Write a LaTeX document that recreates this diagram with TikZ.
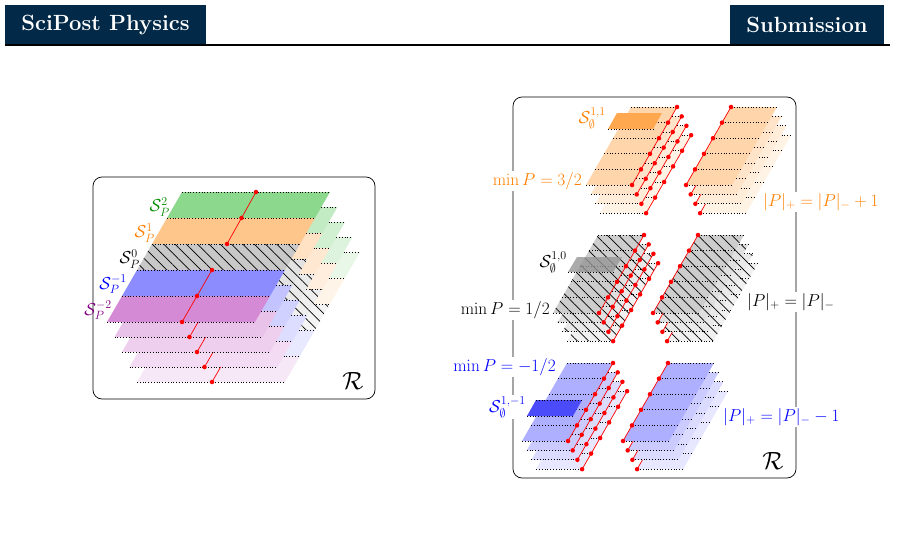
\documentclass[tikz,border=0pt]{standalone}
\usetikzlibrary{calc,patterns.meta}
\definecolor{hdr}{RGB}{2,42,72}
\definecolor{lgreen}{RGB}{140,216,140}
\definecolor{lorange}{RGB}{255,198,140}
\definecolor{lgray}{RGB}{200,200,200}
\definecolor{lblue}{RGB}{140,140,255}
\definecolor{lpurple}{RGB}{213,138,213}
\definecolor{rorange}{RGB}{255,214,172}
\definecolor{rgray}{RGB}{205,205,205}
\definecolor{rblue}{RGB}{175,175,255}
\definecolor{korange}{RGB}{255,168,80}
\definecolor{kgray}{RGB}{150,150,150}
\definecolor{kblue}{RGB}{75,75,250}
\tikzset{
  edge/.style={dotted,line width=0.8pt},
  redline/.style={red,line width=0.7pt},
  reddot/.style={fill=red,draw=none,circle,inner sep=1.6pt},
  hatch/.style={pattern={Lines[angle=135,distance=8pt,line width=0.7pt]}},
  lbl/.style={font=\fontsize{18}{20}\selectfont,inner sep=1pt},
  frame/.style={rounded corners=9pt,line width=0.7pt}
}
% one sheet of the left stack
\newcommand\lsheet[5]{%
  \fill[#3!#4!white] (#1,#2) -- ++(148,0) -- ++(15,-26) -- ++(-148,0) -- cycle;
  #5
  \draw[edge] (#1,#2) -- ++(148,0);
  \draw[edge] (#1+15,#2-26) -- ++(148,0);
}
% one layer of a right stack
\newcommand\rsheet[6]{%
  \fill[#3!#4!white] (#1,#2) -- ++(46,0) -- ++(45,-78) -- ++(-46,0) -- cycle;
  #5
  \foreach \r in {0,...,5}
    \draw[edge] (#1+9*\r,#2-15.6*\r) -- ++(46,0);
  \draw[redline] (#1+#6,#2) -- ++(45,-78);
  \foreach \r in {0,...,5}
    \node[reddot] at (#1+#6+9*\r,#2-15.6*\r) {};
}
\newcommand\rstack[5]{%
  \foreach \j/\p in {3/30,2/45,1/65,0/100}
    \rsheet{#1+4.7*\j}{#2+9.4*\j}{#3}{\p}{#4}{#5};
}
\newcommand\nohatch{}
\begin{document}
\begin{tikzpicture}[x=1pt,y=-1pt]
\useasboundingbox (0,0) rectangle (897,533);
% header
\fill[hdr] (5,5) rectangle (206,45);
\node[text=white,font=\bfseries\fontsize{22}{24}\selectfont] (hl) at (105.5,25) {SciPost Physics};
\fill[hdr] (730,5) rectangle (884,45);
\node[text=white,font=\bfseries\fontsize{22}{24}\selectfont] (hr) at (807,25) {Submission};
\draw[line width=1.6pt] (5,45) -- (890,45);

%left picture
\draw[frame] (93,177) rectangle (375,399);
\foreach \j/\p in {4/20,3/30,2/40,1/52,0/100} {
  \lsheet{167+7.5*\j}{218+15*\j}{lgreen}{\p}{}
  \lsheet{152+7.5*\j}{244+15*\j}{lorange}{\p}{}
  \lsheet{137+7.5*\j}{270+15*\j}{lgray}{\p}{\fill[hatch] (137+7.5*\j,270+15*\j) -- ++(148,0) -- ++(15,-26) -- ++(-148,0) -- cycle;}
  \lsheet{122+7.5*\j}{296+15*\j}{lblue}{\p}{}
  \lsheet{107+7.5*\j}{322+15*\j}{lpurple}{\p}{}
  \draw[redline] (227+7.5*\j,244+15*\j) -- ++(29,-52);
  \foreach \q in {0,1,2}
    \node[reddot] at (227+7.5*\j+14.5*\q,244+15*\j-26*\q) {};
  \draw[redline] (182+7.5*\j,322+15*\j) -- ++(30,-52);
  \foreach \q in {0,1,2}
    \node[reddot] at (182+7.5*\j+15*\q,322+15*\j-26*\q) {};
}
\node[lbl,text=green!55!black,anchor=east] (s2) at (171,207) {$\mathcal{S}_P^2$};
\node[lbl,text=orange,anchor=east] (s1) at (156,233) {$\mathcal{S}_P^1$};
\node[lbl,anchor=east] (s0) at (141,259) {$\mathcal{S}_P^0$};
\node[lbl,text=blue,anchor=east] (sm1) at (128,284) {$\mathcal{S}_P^{-1}$};
\node[lbl,text=violet,anchor=east] (sm2) at (113,310) {$\mathcal{S}_P^{-2}$};
\node[font=\fontsize{24}{26}\selectfont] (rl) at (353,381) {$\mathcal{R}$};

%right picture
\draw[frame] (513,97) rectangle (796,478);
% orange
\rstack{586}{185}{rorange}{\nohatch}{46}
\fill[korange] (608,129) -- ++(45,0) -- ++(9,-16) -- ++(-45,0) -- cycle;
\draw[edge] (608,129) -- ++(45,0);
\rstack{686}{185}{rorange}{\nohatch}{0}
% gray
\rstack{553}{313}{rgray}{\fill[hatch] (553+4.7*\j,313+9.4*\j) -- ++(46,0) -- ++(45,-78) -- ++(-46,0) -- cycle;}{46}
\fill[kgray,opacity=0.8] (568,272) -- ++(45,0) -- ++(9,-15) -- ++(-45,0) -- cycle;
\draw[edge] (568,272) -- ++(45,0);
\rstack{653}{313}{rgray}{\fill[hatch] (653+4.7*\j,313+9.4*\j) -- ++(46,0) -- ++(45,-78) -- ++(-46,0) -- cycle;}{0}
% blue
\rstack{522}{441}{rblue}{\nohatch}{46}
\fill[kblue] (527,416) -- ++(46,0) -- ++(9,-16) -- ++(-46,0) -- cycle;
\draw[edge] (527,416) -- ++(46,0);
\draw[edge] (536,400) -- ++(46,0);
\rstack{623}{441}{rblue}{\nohatch}{0}

\node[lbl,text=orange,anchor=east,fill=white] (so) at (607,118) {$\mathcal{S}_\emptyset^{1,1}$};
\node[lbl,text=orange,anchor=east,fill=white] (mo) at (583,181) {$\min P=3/2$};
\node[lbl,text=orange,anchor=west,fill=white] (po) at (762,202) {$|P|_+=|P|_-+1$};
\node[lbl,anchor=east,fill=white] (sg) at (568,262) {$\mathcal{S}_\emptyset^{1,0}$};
\node[lbl,anchor=east,fill=white] (mg) at (551,310) {$\min P=1/2$};
\node[lbl,anchor=west,fill=white] (pg) at (746,302) {$|P|_+=|P|_-$};
\node[lbl,text=blue,anchor=east,fill=white] (mb) at (557,367) {$\min P=-1/2$};
\node[lbl,text=blue,anchor=east,fill=white] (sb) at (527,407) {$\mathcal{S}_\emptyset^{1,-1}$};
\node[lbl,text=blue,anchor=west,fill=white] (pb) at (722,417) {$|P|_+=|P|_--1$};
\node[font=\fontsize{24}{26}\selectfont] (rr) at (773,461) {$\mathcal{R}$};
\end{tikzpicture}
\end{document}
